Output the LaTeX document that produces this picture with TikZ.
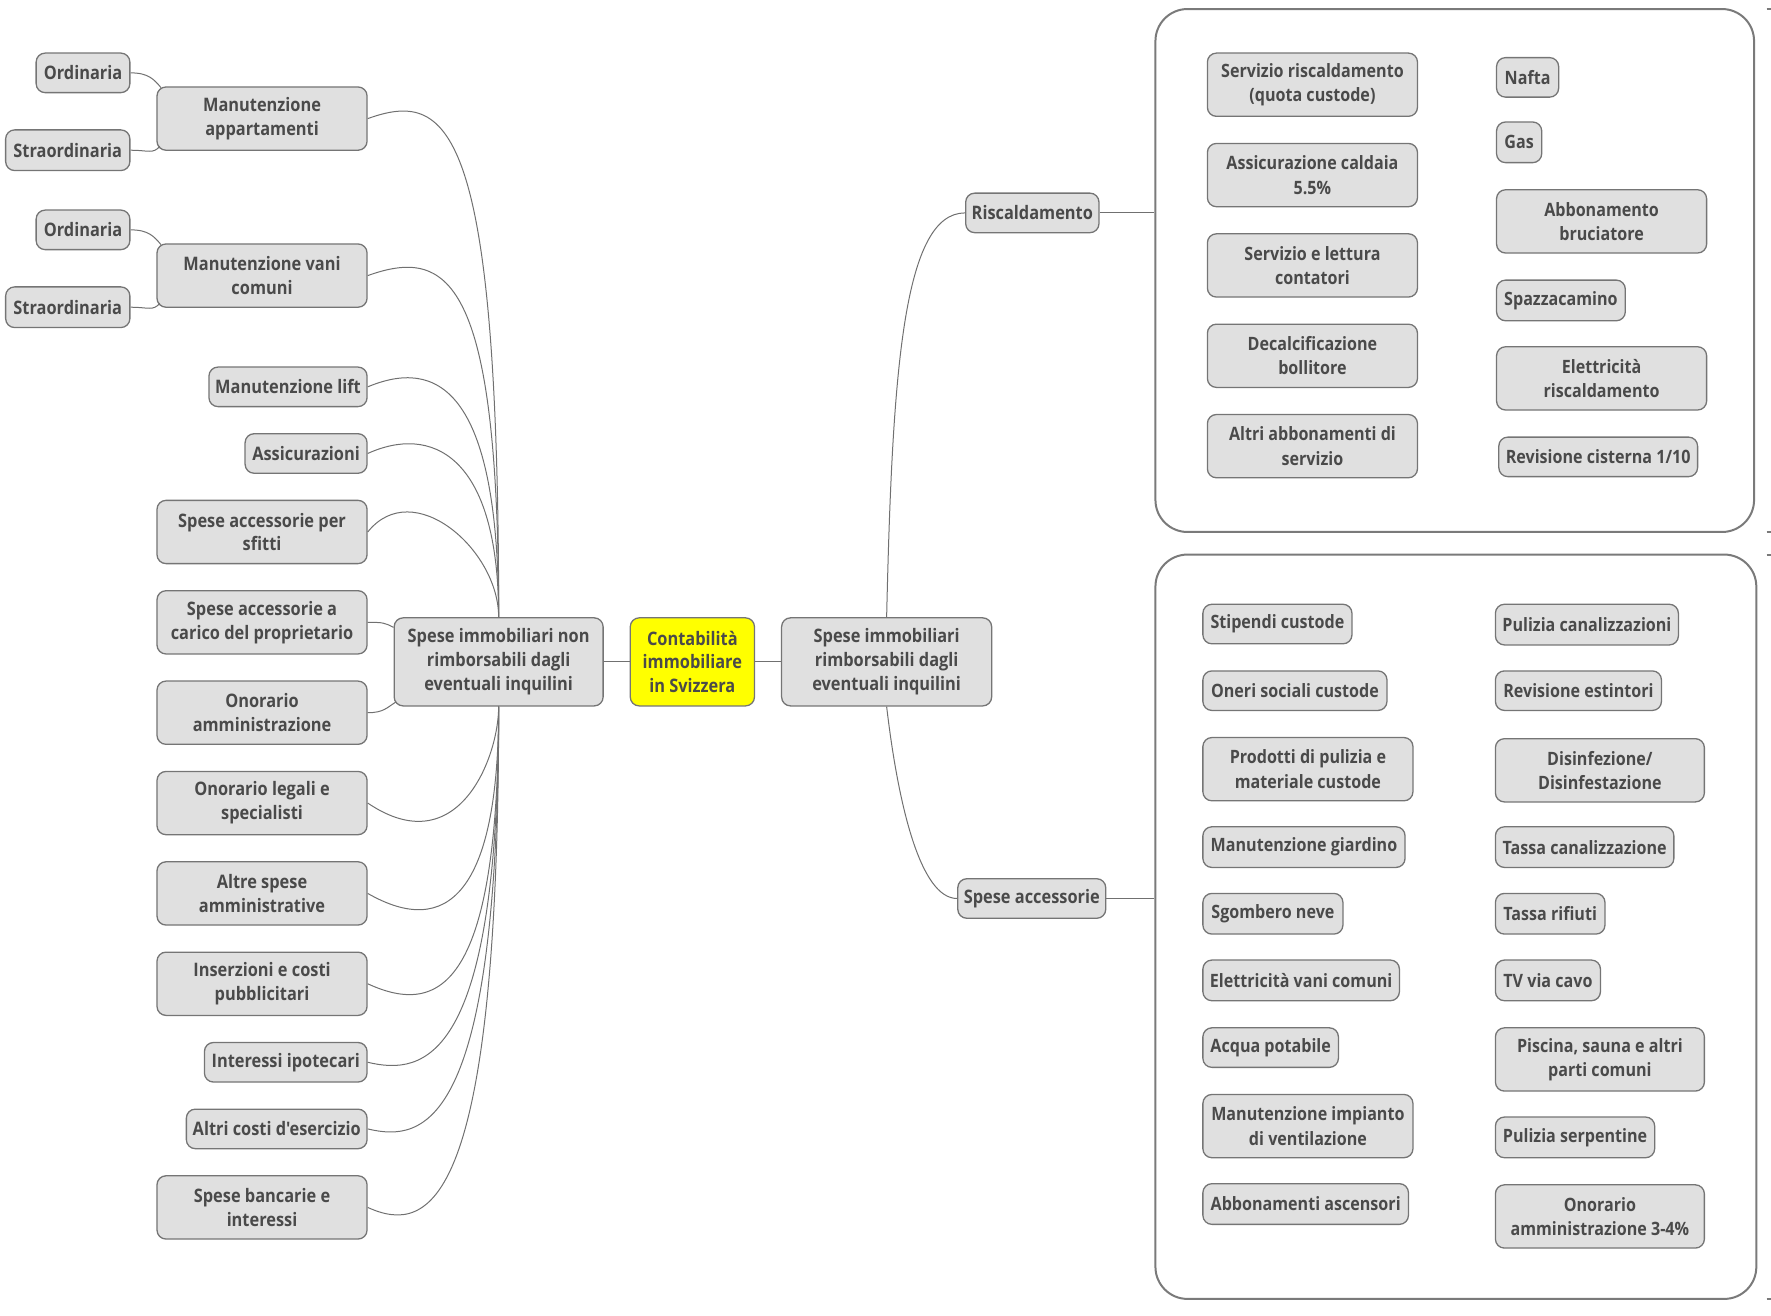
\documentclass[tikz,border=0pt]{standalone}
\usepackage{fontspec}
\setmainfont{Open Sans}
\newfontfamily\outerfont{Open Sans}[FakeStretch=0.88]
\newfontfamily\innerfont{Open Sans}[FakeStretch=0.875]
\definecolor{nodefill}{HTML}{E0E0E0}
\definecolor{nodeborder}{HTML}{757575}
\definecolor{txt}{HTML}{4A4A4A}
\definecolor{linkcol}{HTML}{707070}
\definecolor{boxcol}{HTML}{7A7A7A}
\definecolor{rootfill}{HTML}{FFFF00}
\tikzset{
  topic/.style={draw=nodeborder, fill=nodefill, rounded corners=4.5pt, line width=0.65pt,
    text=txt, align=center, inner sep=1pt,
    font=\outerfont\bfseries\fontsize{9.3}{11.9}\selectfont},
  sub/.style={topic, font=\innerfont\bfseries\fontsize{9.2}{12.2}\selectfont},
  wh/.style 2 args={minimum width=#1*0.56475pt, minimum height=#2*0.56475pt},
  link/.style={draw=linkcol, line width=0.5pt},
  boundary/.style={draw=boxcol, line width=1pt, rounded corners=16pt}
}
\begin{document}
\begin{tikzpicture}[x=0.56475pt, y=-0.56475pt]
\path[use as bounding box] (0,0) rectangle (1568,1165);

% central topic and the two main branches
\node[topic, fill=rootfill, wh={110}{78}] (root) at (613,586) {Contabilità\\immobiliare\\in Svizzera};
\node[topic, wh={185}{78}] (np) at (441.5,586) {Spese immobiliari non\\rimborsabili dagli\\eventuali inquilini};
\node[topic, wh={186}{78}] (rimb) at (785,586) {Spese immobiliari\\rimborsabili dagli\\eventuali inquilini};

% left branch
\node[topic, wh={83}{35}] (ord1) at (73.5,64.5) {Ordinaria};
\node[topic, wh={186}{56}] (mapp) at (232,105) {Manutenzione\\appartamenti};
\node[topic, wh={110}{36}] (str1) at (60,133) {Straordinaria};
\node[topic, wh={83}{35}] (ord2) at (73.5,203.5) {Ordinaria};
\node[topic, wh={186}{56}] (mvani) at (232,244) {Manutenzione vani\\comuni};
\node[topic, wh={110}{36}] (str2) at (60,272) {Straordinaria};
\node[topic, wh={140}{35}] (lift) at (255,342.5) {Manutenzione lift};
\node[topic, wh={108}{35}] (assic) at (271,401.5) {Assicurazioni};
\node[topic, wh={186}{56}] (sfitti) at (232,471) {Spese accessorie per\\sfitti};
\node[topic, wh={186}{56}] (carico) at (232,551) {Spese accessorie a\\carico del proprietario};
\node[topic, wh={186}{56}] (onamm) at (232,631) {Onorario\\amministrazione};
\node[topic, wh={186}{56}] (legali) at (232,711) {Onorario legali e\\specialisti};
\node[topic, wh={186}{56}] (altre) at (232,791) {Altre spese\\amministrative};
\node[topic, wh={186}{56}] (inserz) at (232,871) {Inserzioni e costi\\pubblicitari};
\node[topic, wh={144}{35}] (ipot) at (253,940.5) {Interessi ipotecari};
\node[topic, wh={160}{35}] (eserc) at (245,999.5) {Altri costi d'esercizio};
\node[topic, wh={186}{56}] (banca) at (232,1069) {Spese bancarie e\\interessi};

% right branch
\node[topic, wh={118}{35}] (risc) at (914,188.5) {Riscaldamento};
\node[topic, wh={131}{35}] (spacc) at (913.5,795.5) {Spese accessorie};

\node[boundary, wh={530}{463}] (box1) at (1288,239.5) {};
\node[boundary, wh={532}{659}] (box2) at (1289,820.5) {};

% heating items
\node[sub, wh={186}{56}] (h1) at (1162,75) {Servizio riscaldamento\\(quota custode)};
\node[sub, wh={186}{56}] (h2) at (1162,155) {Assicurazione caldaia\\5.5\%};
\node[sub, wh={186}{56}] (h3) at (1162,235) {Servizio e lettura\\contatori};
\node[sub, wh={186}{56}] (h4) at (1162,315) {Decalcificazione\\bollitore};
\node[sub, wh={186}{56}] (h5) at (1162,395) {Altri abbonamenti di\\servizio};
\node[sub, wh={55}{35}] (h6) at (1352.5,68.5) {Nafta};
\node[sub, wh={40}{36}] (h7) at (1345,126) {Gas};
\node[sub, wh={186}{56}] (h8) at (1418,196) {Abbonamento\\bruciatore};
\node[sub, wh={114}{36}] (h9) at (1382,266) {Spazzacamino};
\node[sub, wh={186}{56}] (h10) at (1418,335) {Elettricità\\riscaldamento};
\node[sub, wh={176}{35}] (h11) at (1415,404.5) {Revisione cisterna 1/10};

% ancillary cost items
\node[sub, wh={132}{35}] (a1) at (1131,552.5) {Stipendi custode};
\node[sub, wh={163}{35}] (a2) at (1146.5,611.5) {Oneri sociali custode};
\node[sub, wh={186}{56}] (a3) at (1158,681) {Prodotti di pulizia e\\materiale custode};
\node[sub, wh={179}{36}] (a4) at (1154.5,750) {Manutenzione giardino};
\node[sub, wh={124}{36}] (a5) at (1127,809) {Sgombero neve};
\node[sub, wh={174}{36}] (a6) at (1152,868) {Elettricità vani comuni};
\node[sub, wh={120}{35}] (a7) at (1125,927.5) {Acqua potabile};
\node[sub, wh={186}{56}] (a8) at (1158,997) {Manutenzione impianto\\di ventilazione};
\node[sub, wh={182}{36}] (a9) at (1156,1066) {Abbonamenti ascensori};
\node[sub, wh={162}{36}] (b1) at (1405,553) {Pulizia canalizzazioni};
\node[sub, wh={147}{35}] (b2) at (1397.5,611.5) {Revisione estintori};
\node[sub, wh={185}{56}] (b3) at (1416.5,682) {Disinfezione/\\Disinfestazione};
\node[sub, wh={158}{36}] (b4) at (1403,750) {Tassa canalizzazione};
\node[sub, wh={97}{36}] (b5) at (1372.5,809) {Tassa rifiuti};
\node[sub, wh={93}{36}] (b6) at (1370.5,868) {TV via cavo};
\node[sub, wh={185}{56}] (b7) at (1416.5,938) {Piscina, sauna e altri\\parti comuni};
\node[sub, wh={141}{36}] (b8) at (1394.5,1007) {Pulizia serpentine};
\node[sub, wh={185}{56}] (b9) at (1416.5,1077) {Onorario\\amministrazione 3-4\%};

% connectors around the central topic
\draw[link] (np.east) -- (root.west);
\draw[link] (root.east) -- (rimb.west);

% left branch connectors
\draw[link] (mapp.east) .. controls +(70,-25) and +(0,-442) .. (np.north);
\draw[link] (mvani.east) .. controls +(70,-25) and +(0,-303) .. (np.north);
\draw[link] (lift.east) .. controls +(60,-25) and +(0,-205) .. (np.north);
\draw[link] (assic.east) .. controls +(55,-25) and +(0,-146) .. (np.north);
\draw[link] (sfitti.east) .. controls +(40,-50) and +(0,-60) .. (np.north);
\draw[link] (carico.east) .. controls +(14,0) and +(-8,-4) .. ([shift={(0,9)}]np.north west);
\draw[link] (onamm.east) .. controls +(14,0) and +(-8,5) .. ([shift={(2,-4)}]np.south west);
\draw[link] (legali.east) .. controls +(80,54) and +(0,45) .. (np.south);
\draw[link] (altre.east) .. controls +(70,40) and +(0,166) .. (np.south);
\draw[link] (inserz.east) .. controls +(65,30) and +(0,246) .. (np.south);
\draw[link] (ipot.east) .. controls +(50,12) and +(0,315) .. (np.south);
\draw[link] (eserc.east) .. controls +(50,12) and +(0,374) .. (np.south);
\draw[link] (banca.east) .. controls +(55,25) and +(0,444) .. (np.south);

\draw[link] (ord1.east) .. controls +(16,0) and +(-6,-7) .. ([shift={(4,1)}]mapp.north west);
\draw[link] (str1.east) .. controls +(16,0) and +(-6,7) .. ([shift={(3,-4)}]mapp.south west);
\draw[link] (ord2.east) .. controls +(16,0) and +(-6,-7) .. ([shift={(4,1)}]mvani.north west);
\draw[link] (str2.east) .. controls +(16,0) and +(-6,7) .. ([shift={(3,-4)}]mvani.south west);

% right branch connectors
\draw[link] (rimb.north) .. controls +(5,-217) and +(-55,0) .. (risc.west);
\draw[link] (rimb.south) .. controls +(10,85) and +(-33,0) .. (spacc.west);
\draw[link] (risc.east) -- (risc.east -| box1.west);
\draw[link] (spacc.east) -- (spacc.east -| box2.west);

% small marks on the right edge
\foreach \yy in {8,471,491,1150} \draw[boxcol, line width=1pt] (1564,\yy) -- (1568,\yy);
\end{tikzpicture}
\end{document}
